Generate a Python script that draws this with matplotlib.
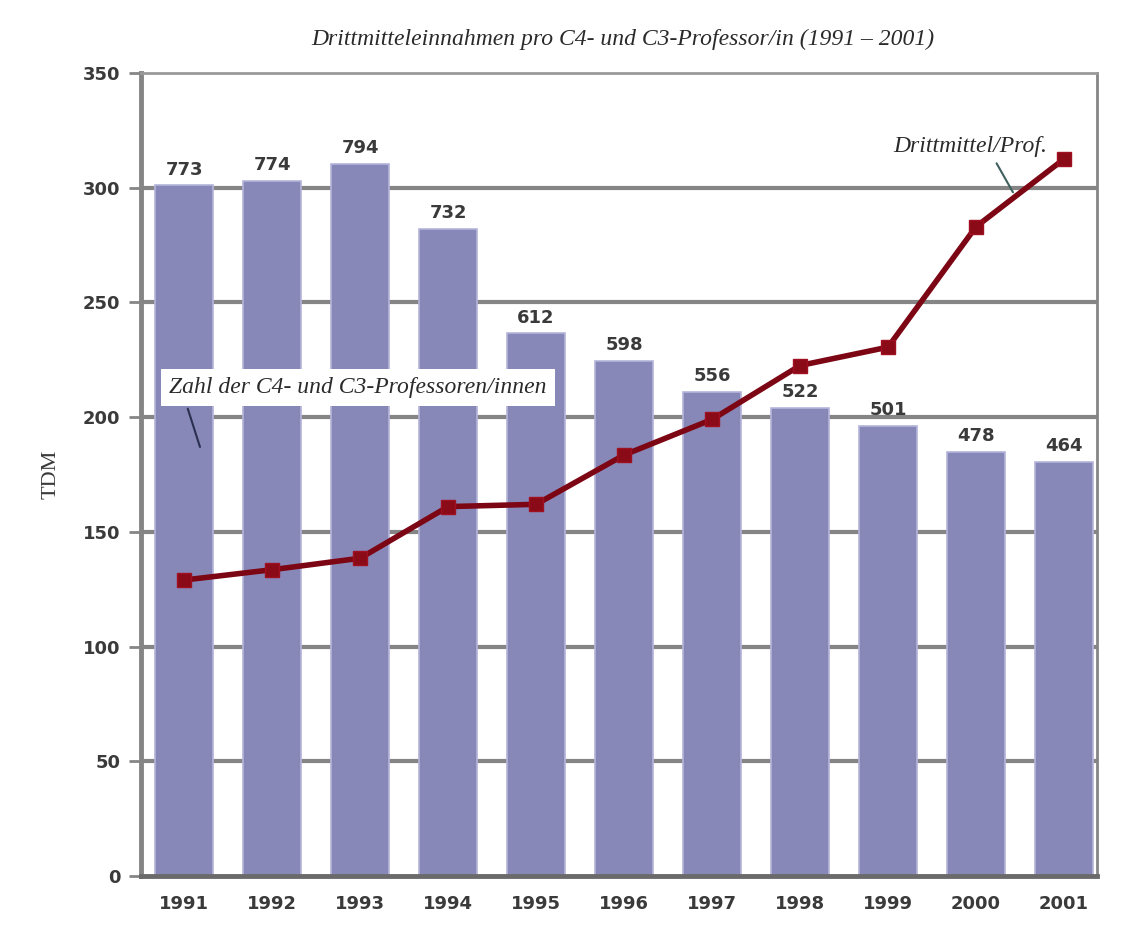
import matplotlib.pyplot as plt

years = ['1991', '1992', '1993', '1994', '1995', '1996', '1997', '1998', '1999', '2000', '2001']
# bar heights as drawn on the TDM axis, labelled with the number of professors
bar_heights = [301, 303, 310.5, 282, 236.5, 224.5, 211, 204, 196, 185, 180.5]
prof_counts = ['773', '774', '794', '732', '612', '598', '556', '522', '501', '478', '464']
# third-party funds per professor (TDM)
funds_per_prof = [129, 133.5, 138.5, 161, 162, 183.5, 199, 222.5, 230.5, 283, 312.5]
y_ticks = [0, 50, 100, 150, 200, 250, 300, 350]

bar_color = '#8888b8'
line_color = '#7d0614'
grid_color = '#858585'
label_color = '#3a3a3a'
num_font = dict(family='DejaVu Sans', weight='bold', size=13, color=label_color)

fig = plt.figure(figsize=(11.42, 9.38), dpi=100)
ax = fig.add_axes([0.1235, 0.0661, 0.8371, 0.8561])

x = list(range(len(years)))

# grid lines behind the bars (the top one is the frame)
for t in y_ticks[1:-1]:
    ax.axhline(t, color=grid_color, lw=3, zorder=0)

bars = ax.bar(x, bar_heights, width=0.66, color=bar_color,
              edgecolor='#b4b4dc', linewidth=1.2, zorder=2)
for xi, h, lab in zip(x, bar_heights, prof_counts):
    ax.text(xi, h + 3, lab, ha='center', va='bottom', zorder=4, **num_font)

ax.plot(x, funds_per_prof, color=line_color, lw=4, marker='s', markersize=10.5,
        markerfacecolor='#8a0a18', markeredgecolor='#a01020', zorder=5)

ax.set_xlim(-0.49, 10.375)
ax.set_ylim(0, 350)
ax.set_yticks(y_ticks)
ax.set_xticks(x)
ax.set_xticklabels(years)
for lbl in ax.get_xticklabels() + ax.get_yticklabels():
    lbl.set_fontfamily('DejaVu Sans')
    lbl.set_fontweight('bold')
    lbl.set_fontsize(13)
    lbl.set_color(label_color)

ax.tick_params(axis='y', direction='out', length=9, width=2, color=grid_color, pad=6)
ax.tick_params(axis='x', length=0, pad=14)

ax.spines['top'].set_color('#9a9a9a')
ax.spines['top'].set_linewidth(2)
ax.spines['left'].set_color(grid_color)
ax.spines['left'].set_linewidth(3.5)
ax.spines['bottom'].set_color('#6a6a6a')
ax.spines['bottom'].set_linewidth(3.5)
ax.spines['right'].set_color(grid_color)
ax.spines['right'].set_linewidth(2)

ax.set_ylabel('TDM', family='Liberation Serif', fontsize=16, color=label_color, labelpad=16)

fig.text(0.545, 0.958, 'Drittmitteleinnahmen pro C4- und C3-Professor/in (1991 – 2001)',
         ha='center', va='center', family='Liberation Serif', style='italic',
         fontsize=17, color='#2a2a2a')

ax.annotate('Zahl der C4- und C3-Professoren/innen', xy=(0.18, 187), xytext=(-0.17, 213),
            ha='left', va='center', family='Liberation Serif', style='italic',
            fontsize=17, color='#2a2a2a', zorder=6,
            bbox=dict(boxstyle='square,pad=0.35', fc='white', ec='none'),
            arrowprops=dict(arrowstyle='-', color='#2a3050', lw=1.5,
                            relpos=(0.04, 0), shrinkA=2, shrinkB=0))

ax.annotate('Drittmittel/Prof.', xy=(9.42, 298), xytext=(8.93, 318),
            ha='center', va='center', family='Liberation Serif', style='italic',
            fontsize=17, color='#2a2a2a', zorder=6,
            arrowprops=dict(arrowstyle='-', color='#406060', lw=1.5,
                            relpos=(0.65, 0), shrinkA=3, shrinkB=0))

fig.savefig('out.png', dpi=100, facecolor='white')
